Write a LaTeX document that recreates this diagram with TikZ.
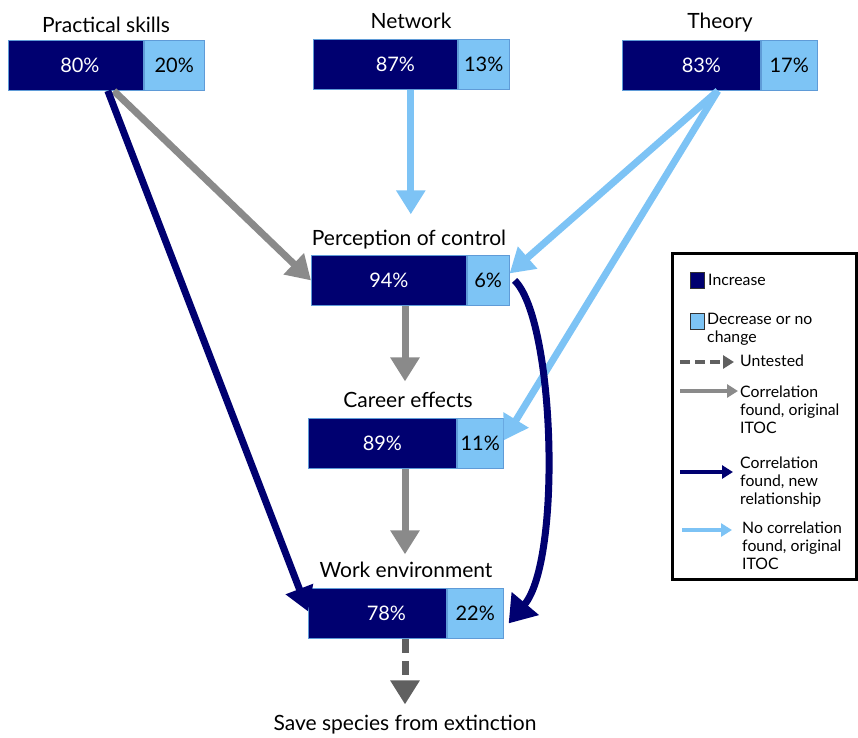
\documentclass[tikz,border=0pt]{standalone}
\usepackage{fontspec}
\setmainfont{Lato}
\usetikzlibrary{arrows.meta}

\definecolor{incblue}{RGB}{0,0,112}
\definecolor{decblue}{RGB}{125,196,245}
\definecolor{barline}{RGB}{95,155,215}
\definecolor{linkgray}{RGB}{138,138,138}
\definecolor{dashgray}{RGB}{96,96,96}
\definecolor{linkblue}{RGB}{125,195,245}

\newcommand\pctfont{\fontsize{20}{24}\selectfont}
\newcommand\labfont{\fontsize{21}{25}\selectfont}
\newcommand\legfont{\fontsize{15.8}{17.8}\selectfont}

\tikzset{
  incpart/.style={rectangle, fill=incblue, draw=barline, line width=0.8pt,
    text=white, minimum height=50pt, inner sep=0pt, font=\pctfont},
  decpart/.style={rectangle, fill=decblue, draw=barline, line width=0.8pt,
    text=black, minimum height=50pt, inner sep=0pt, font=\pctfont, anchor=west},
  barlabel/.style={anchor=base, inner sep=2pt, font=\labfont},
  legtext/.style={anchor=north west, align=left, inner sep=0pt, font=\legfont},
  bighead/.style={-{Triangle[length=24pt,width=28pt]}, line width=7pt},
  smallhead/.style={-{Triangle[length=11pt,width=13pt]}, line width=4pt},
  graylink/.style={bighead, draw=linkgray},
  navylink/.style={bighead, draw=incblue},
  bluelink/.style={bighead, draw=linkblue},
  untested/.style={bighead, draw=dashgray, dash pattern=on 14pt off 8pt}
}

\begin{document}
\begin{tikzpicture}[x=1pt, y=-1pt]

  \useasboundingbox (0,0) rectangle (858,737);

  % bars
  \begin{scope}[every node/.append style={anchor=north west}]
    \node[incpart, minimum width=135pt] (ps-inc) at (8,40)   {\hspace{8pt}80\%};
    \node[incpart, minimum width=144pt] (ne-inc) at (313,39) {\hspace{20pt}87\%};
    \node[incpart, minimum width=138pt] (th-inc) at (622,40) {\hspace{20pt}83\%};
    \node[incpart, minimum width=155pt] (pc-inc) at (311,255) {94\%};
    \node[incpart, minimum width=148pt] (ce-inc) at (308,418) {89\%};
    \node[incpart, minimum width=138pt] (we-inc) at (308,588) {\hspace{18pt}78\%};
  \end{scope}

  \node[decpart, minimum width=60pt] (ps-dec) at (ps-inc.east) {20\%};
  \node[decpart, minimum width=51pt] (ne-dec) at (ne-inc.east) {13\%};
  \node[decpart, minimum width=56pt] (th-dec) at (th-inc.east) {17\%};
  \node[decpart, minimum width=42pt] (pc-dec) at (pc-inc.east) {6\%};
  \node[decpart, minimum width=46pt] (ce-dec) at (ce-inc.east) {11\%};
  \node[decpart, minimum width=56pt] (we-dec) at (we-inc.east) {22\%};

  % labels
  \begin{scope}[every node/.style={barlabel}]
    \node (ps-lab) at (106,32)  {Practical skills};
    \node (ne-lab) at (411,28)  {Network};
    \node (th-lab) at (720,28)  {Theory};
    \node (pc-lab) at (409,245) {Perception of control};
    \node (ce-lab) at (408,407) {Career effects};
    \node (we-lab) at (406,577) {Work environment};
    \node (sv)     at (405,730) {Save species from extinction};
  \end{scope}

  \coordinate (col) at (405,0);
  \coordinate (ne-out) at ([xshift=-47pt]ne-inc.south east);
  \coordinate (th-out) at ([xshift=-43pt]th-inc.south east);

  % connectors
  \path ([xshift=-30pt]ps-inc.south east) edge[graylink] (pc-inc.west);
  \path ([xshift=-36pt]ps-inc.south east) edge[navylink] ([yshift=2pt]we-inc.west);
  \path (ne-out) edge[bluelink, shorten >=13pt] (ne-out |- pc-lab.north);
  \path (th-out) edge[bluelink] ([yshift=7pt]pc-dec.east);
  \path (th-out) edge[bluelink] ([yshift=3pt]ce-dec.east);
  \path (pc-inc.south -| col) edge[graylink, shorten >=8pt] (ce-lab.north -| col);
  \path (ce-inc.south -| col) edge[graylink, shorten >=5pt] (we-lab.north -| col);
  \path (we-inc.south -| col) edge[untested, shorten >=8pt] (sv.north -| col);
  \draw[navylink, -{Triangle[length=26pt,width=34pt]}] ([xshift=5pt]pc-dec.east)
    .. controls (555,320) and (562,560) .. ([xshift=5pt,yshift=-10pt]we-dec.east);

  % legend
  \draw[line width=3pt] (672,253) rectangle (856,579);
  \node[incpart, minimum width=14pt, minimum height=16pt, draw=black!80,
    anchor=north west] (lg-incbox) at (690,272) {};
  \node[decpart, minimum width=14pt, minimum height=16pt, draw=black!80,
    anchor=north west] (lg-decbox) at (690,313) {};
  \node[legtext] (lg-inc) at (708,274) {Increase};
  \node[legtext] (lg-dec) at (707,313) {Decrease or no\\change};
  \node[legtext] (lg-unt) at (740,355) {Untested};
  \node[legtext] (lg-gray) at (740,386) {Correlation\\found, original\\ITOC};
  \node[legtext] (lg-navy) at (740,457) {Correlation\\found, new\\relationship};
  \node[legtext] (lg-blue) at (742,522) {No correlation\\found, original\\ITOC};

  \coordinate (lg-unt-a)  at (680,362);
  \coordinate (lg-gray-a) at (680,391);
  \coordinate (lg-navy-a) at (680,472);
  \coordinate (lg-blue-a) at (682,530);
  \path (lg-unt-a)  edge[smallhead, draw=dashgray, dash pattern=on 10pt off 5pt]
    ([xshift=-6pt]lg-unt-a -| lg-unt.west);
  \path (lg-gray-a) edge[smallhead, draw=linkgray] ([xshift=-2pt]lg-gray-a -| lg-gray.west);
  \path (lg-navy-a) edge[smallhead, draw=incblue] ([xshift=-7pt]lg-navy-a -| lg-navy.west);
  \path (lg-blue-a) edge[smallhead, draw=linkblue] ([xshift=-10pt]lg-blue-a -| lg-blue.west);

\end{tikzpicture}
\end{document}
